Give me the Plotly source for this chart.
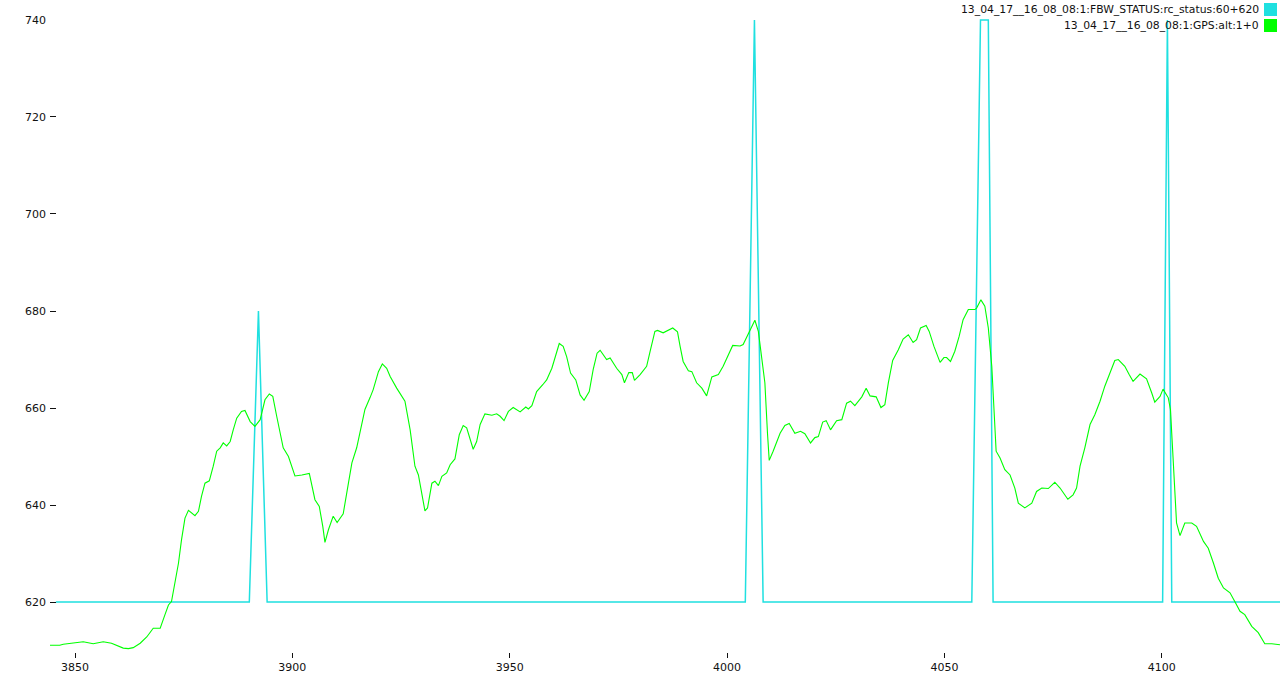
import plotly.graph_objects as go

# ---- data ----
rc_time = [3845.6, 3890.1, 3892.2, 3894.2, 4004.2, 4006.3, 4008.3,
           4056.3, 4058.3, 4060.1, 4061.2, 4100.2, 4101.3, 4102.3, 4127.2]
rc_value = [620, 620, 680, 620, 620, 740, 620,
            620, 740, 740, 620, 620, 740, 620, 620]

alt_time = [
    3844.2, 3846.5, 3847.3, 3849.6, 3851.9, 3854.2, 3856.5, 3858.4, 3859.6, 3861.1,
    3862.3, 3863.4, 3865.0, 3866.5, 3868.0, 3869.6, 3870.7, 3871.5, 3872.2, 3873.0,
    3873.8, 3874.5, 3875.3, 3876.1, 3876.8, 3877.6, 3878.4, 3879.1, 3879.9, 3880.9,
    3881.8, 3882.6, 3883.4, 3884.1, 3884.9, 3885.7, 3886.4, 3887.2, 3888.3, 3889.1,
    3890.3, 3891.4, 3892.6, 3893.7, 3894.7, 3895.5, 3896.4, 3897.9, 3899.1, 3900.6,
    3902.2, 3903.9, 3905.2, 3906.2, 3907.0, 3907.5, 3908.3, 3909.4, 3910.3, 3911.7,
    3912.9, 3913.7, 3914.8, 3916.7, 3917.9, 3918.6, 3919.8, 3920.7, 3921.7, 3922.5,
    3924.0, 3925.9, 3927.1, 3928.2, 3929.0, 3929.8, 3930.5, 3931.1, 3932.1, 3932.8,
    3933.6, 3934.4, 3935.5, 3936.3, 3937.4, 3938.4, 3939.3, 3940.1, 3940.9, 3941.6,
    3942.4, 3943.2, 3944.3, 3945.9, 3947.0, 3947.8, 3948.7, 3949.7, 3950.8, 3952.4,
    3953.7, 3954.3, 3955.1, 3956.2, 3957.6, 3958.5, 3959.7, 3960.8, 3961.4, 3962.3,
    3963.1, 3964.0, 3965.2, 3966.2, 3967.1, 3968.3, 3969.2, 3970.1, 3970.8, 3972.3,
    3973.1, 3974.6, 3975.8, 3976.4, 3977.4, 3978.2, 3978.7, 3980.0, 3981.5, 3982.3,
    3983.4, 3984.0, 3985.3, 3987.5, 3988.6, 3989.2, 3989.9, 3991.1, 3991.9, 3993.0,
    3994.2, 3995.3, 3996.5, 3998.0, 3999.1, 4001.3, 4003.0, 4003.7, 4005.3, 4006.4,
    4007.2, 4008.0, 4008.7, 4009.3, 4009.7, 4010.6, 4012.2, 4013.3, 4014.3, 4015.6,
    4016.9, 4017.9, 4019.2, 4020.2, 4021.0, 4022.0, 4022.8, 4023.8, 4025.2, 4026.4,
    4027.5, 4028.4, 4029.4, 4031.0, 4032.0, 4032.9, 4034.3, 4035.4, 4036.3, 4037.1,
    4038.1, 4039.4, 4040.5, 4041.7, 4042.8, 4043.6, 4044.5, 4045.8, 4046.5, 4047.6,
    4049.0, 4049.9, 4050.5, 4051.4, 4052.4, 4053.4, 4054.3, 4055.5, 4057.0, 4057.4,
    4058.4, 4059.3, 4060.1, 4060.9, 4061.2, 4061.9, 4062.8, 4063.9, 4065.1, 4066.2,
    4067.0, 4068.5, 4070.1, 4071.2, 4072.4, 4073.9, 4075.4, 4076.6, 4078.4, 4079.6,
    4080.4, 4081.2, 4082.3, 4083.5, 4084.6, 4085.8, 4086.9, 4088.1, 4089.2, 4090.0,
    4091.5, 4092.5, 4093.4, 4095.0, 4096.5, 4097.7, 4098.4, 4099.6, 4100.3, 4101.5,
    4102.0, 4102.5, 4103.0, 4103.4, 4104.2, 4105.3, 4106.9, 4108.0, 4109.6, 4110.7,
    4111.9, 4113.0, 4114.2, 4115.7, 4116.8, 4118.0, 4119.1, 4120.7, 4122.2, 4123.7,
    4125.3, 4127.2]
alt_value = [
    611.1, 611.1, 611.3, 611.5, 611.8, 611.4, 611.8, 611.5, 611.0, 610.5,
    610.4, 610.6, 611.5, 612.8, 614.6, 614.6, 617.4, 619.4, 620.1, 623.9,
    628.0, 632.8, 637.3, 638.9, 638.4, 637.8, 638.7, 641.8, 644.5, 645.0,
    648.0, 651.1, 651.8, 652.8, 652.2, 653.1, 655.5, 657.9, 659.3, 659.5,
    657.2, 656.2, 657.6, 661.7, 662.9, 662.4, 658.3, 651.8, 650.0, 646.0,
    646.2, 646.5, 641.1, 639.7, 635.6, 632.3, 634.9, 637.7, 636.4, 638.2,
    644.5, 648.7, 651.8, 659.7, 662.2, 663.8, 667.5, 669.1, 668.2, 666.5,
    664.1, 661.4, 655.5, 648.0, 646.2, 642.5, 638.8, 639.4, 644.5, 644.9,
    644.0, 645.9, 646.6, 648.3, 649.5, 654.5, 656.4, 655.9, 653.8, 651.5,
    653.1, 656.6, 658.8, 658.5, 658.8, 658.3, 657.4, 659.3, 660.1, 659.2,
    660.2, 659.8, 660.5, 663.4, 664.8, 665.8, 668.2, 671.7, 673.3, 672.7,
    670.6, 667.2, 665.8, 662.7, 661.6, 663.4, 667.9, 671.3, 671.9, 670.0,
    670.3, 668.2, 666.9, 665.2, 667.3, 667.3, 665.7, 666.9, 668.6, 671.7,
    675.8, 676.0, 675.5, 676.5, 675.7, 672.7, 669.6, 667.7, 667.5, 665.2,
    664.1, 662.5, 666.4, 666.9, 668.6, 672.9, 672.8, 673.1, 676.1, 678.1,
    675.8, 670.6, 665.2, 654.8, 649.2, 651.1, 654.8, 656.4, 656.8, 654.8,
    655.2, 654.7, 652.8, 653.9, 654.1, 657.1, 657.4, 655.5, 657.4, 657.6,
    661.0, 661.4, 660.5, 662.3, 664.1, 662.5, 662.3, 660.1, 660.7, 665.2,
    669.8, 672.0, 674.2, 675.1, 673.5, 674.1, 676.5, 677.0, 675.8, 672.7,
    669.4, 670.4, 670.4, 669.6, 671.7, 674.8, 678.2, 680.3, 680.3, 680.6,
    682.3, 681.0, 676.5, 668.6, 662.4, 651.1, 649.7, 647.3, 646.2, 643.5,
    640.4, 639.4, 640.4, 642.8, 643.5, 643.4, 644.7, 643.5, 641.2, 642.1,
    643.5, 648.0, 651.8, 656.6, 658.6, 661.4, 664.5, 667.5, 669.8, 670.0,
    668.6, 666.9, 665.5, 667.0, 666.0, 663.1, 661.2, 662.4, 663.9, 662.1,
    659.7, 651.4, 643.8, 636.3, 633.7, 636.3, 636.3, 635.6, 632.5, 631.1,
    628.0, 624.9, 622.9, 621.9, 620.1, 618.1, 617.4, 615.0, 613.7, 611.4,
    611.4, 611.2]

series_names = ["13_04_17__16_08_08:1:FBW_STATUS:rc_status:60+620",
                "13_04_17__16_08_08:1:GPS:alt:1+0"]
series_colors = ["#1fe0e0", "#00ff00"]

x_ticks = [3850, 3900, 3950, 4000, 4050, 4100]
y_ticks = [620, 640, 660, 680, 700, 720, 740]

FONT = "DejaVu Sans"

fig = go.Figure()
fig.add_trace(go.Scatter(x=rc_time, y=rc_value, mode="lines",
                         line=dict(color=series_colors[0], width=1.5),
                         name=series_names[0], hoverinfo="skip"))
fig.add_trace(go.Scatter(x=alt_time, y=alt_value, mode="lines",
                         line=dict(color=series_colors[1], width=1.1),
                         name=series_names[1], hoverinfo="skip"))

# custom legend (text right-aligned, swatch on the right)
legend_rows = [(10, 1.02528, 1.00474), (-6, 1.0, 0.97946)]
for name, color, (yshift, y0, y1) in zip(series_names, series_colors, legend_rows):
    fig.add_annotation(xref="paper", yref="paper", x=1, y=1, xanchor="right",
                       yanchor="middle", xshift=-19, yshift=yshift, text=name,
                       showarrow=False, font=dict(family=FONT, size=10.8, color="#111"))
    fig.add_shape(type="rect", xref="paper", yref="paper", x0=0.98699, x1=0.99756,
                  y0=y1, y1=y0, fillcolor=color, line=dict(width=0))

fig.update_layout(
    width=1280, height=674,
    margin=dict(l=50, r=0, t=19, b=22),
    paper_bgcolor="white", plot_bgcolor="white",
    showlegend=False,
    hovermode=False,
    font=dict(family=FONT, size=11, color="#111"),
    xaxis=dict(range=[3844.25, 4127.2], tickvals=x_ticks, ticks="outside",
               ticklen=5, tickwidth=1, tickcolor="#111", showgrid=False,
               zeroline=False, showline=False, tickfont=dict(size=11)),
    yaxis=dict(range=[609.7, 740.2], tickvals=y_ticks, ticks="inside",
               ticklen=6, tickwidth=1, tickcolor="#111", showgrid=False,
               zeroline=False, showline=False, ticklabelstandoff=3,
               tickfont=dict(size=11)),
)

fig.write_html(
    "out.html",
    config={"displayModeBar": False},
    post_script="document.body.style.margin='0';document.body.style.overflow='hidden';",
)
